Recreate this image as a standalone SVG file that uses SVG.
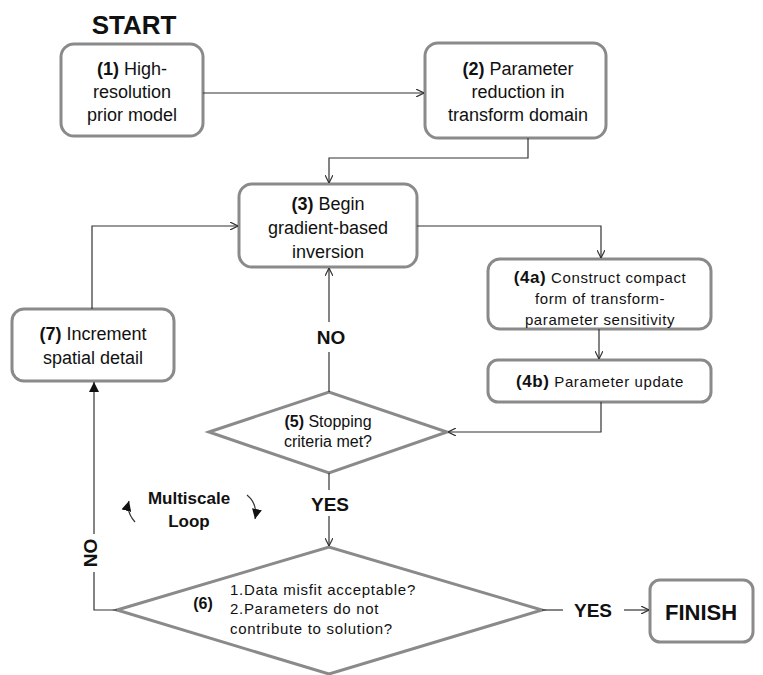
<svg xmlns="http://www.w3.org/2000/svg" width="763" height="675" viewBox="0 0 763 675">
<style>
.box{fill:#fff;stroke:#8a8a8a;stroke-width:3}
.t{font-family:"Liberation Sans",Arial,sans-serif;fill:#111;text-anchor:middle}
.l{text-anchor:start}
.m{font-size:18px}
.s{font-size:15px;letter-spacing:0.6px}
.d{font-size:16px}
.b{font-weight:bold}
.c{fill:none;stroke:#333;stroke-width:1.2}
</style>
<defs>
<marker id="ah" viewBox="0 0 10 10" refX="10" refY="5" markerWidth="8" markerHeight="8" markerUnits="userSpaceOnUse" orient="auto">
<path d="M0,0 L10,5 L0,10" fill="none" stroke="#333" stroke-width="1.5"/>
</marker>
<marker id="af" viewBox="0 0 10 10" refX="10" refY="5" markerWidth="10" markerHeight="10" markerUnits="userSpaceOnUse" orient="auto">
<path d="M0,0 L10,5 L0,10 z" fill="#111"/>
</marker>
</defs>
<text class="t b" x="134" y="34" font-size="26">START</text>
<g id="n1"><rect class="box" x="61" y="44" width="142" height="92" rx="13"/>
<text class="t m" x="132" y="75"><tspan class="b">(1)</tspan> High-</text>
<text class="t m" x="132" y="98">resolution</text>
<text class="t m" x="132" y="121">prior model</text></g>
<g id="n2"><rect class="box" x="425" y="43" width="181" height="95" rx="13"/>
<text class="t m" x="518" y="75"><tspan class="b">(2)</tspan> Parameter</text>
<text class="t m" x="518" y="98">reduction in</text>
<text class="t m" x="518" y="121">transform domain</text></g>
<g id="n3"><rect class="box" x="239" y="184" width="178" height="83" rx="13"/>
<text class="t m" x="328" y="210"><tspan class="b">(3)</tspan> Begin</text>
<text class="t m" x="328" y="234">gradient-based</text>
<text class="t m" x="328" y="258">inversion</text></g>
<g id="n4a"><rect class="box" x="488" y="259" width="223" height="70" rx="12"/>
<text class="t s" x="600" y="283"><tspan class="b" font-size="17">(4a)</tspan> Construct compact</text>
<text class="t s" x="600" y="304">form of transform-</text>
<text class="t s" x="600" y="325">parameter sensitivity</text></g>
<g id="n4b"><rect class="box" x="488" y="360" width="223" height="42" rx="10"/>
<text class="t s" x="600" y="387"><tspan class="b" font-size="17">(4b)</tspan> Parameter update</text></g>
<g id="n5"><polygon class="box" points="209,432 329,392 447,432 329,473"/>
<text class="t d" x="328" y="427"><tspan class="b">(5)</tspan> Stopping</text>
<text class="t d" x="328" y="447">criteria met?</text></g>
<g id="n6"><polygon class="box" points="117,610 329,547 542,610 329,674"/>
<text class="t d b" x="203" y="609">(6)</text>
<text class="t s l" x="230" y="595" style="letter-spacing:0.7px">1.Data misfit acceptable?</text>
<text class="t s l" x="230" y="614" style="letter-spacing:0.7px">2.Parameters do not</text>
<text class="t s l" x="230" y="634" style="letter-spacing:0.7px">contribute to solution?</text></g>
<g id="n7"><rect class="box" x="12" y="309" width="162" height="72" rx="12"/>
<text class="t m" x="93" y="340"><tspan class="b">(7)</tspan> Increment</text>
<text class="t m" x="93" y="364">spatial detail</text></g>
<g id="finish"><rect class="box" x="650" y="580" width="103" height="62" rx="10"/>
<text class="t b" x="701" y="620" font-size="22">FINISH</text></g>
<g id="connectors">
<line class="c" x1="203" y1="93" x2="424" y2="93" marker-end="url(#ah)"/>
<polyline class="c" points="528,138 528,158 329,158 329,183" marker-end="url(#ah)"/>
<polyline class="c" points="417,226 601,226 601,258" marker-end="url(#ah)"/>
<line class="c" x1="599" y1="329" x2="599" y2="359" marker-end="url(#ah)"/>
<polyline class="c" points="601,402 601,432 448,432" marker-end="url(#ah)"/>
<line class="c" x1="329" y1="392" x2="329" y2="352"/>
<line class="c" x1="329" y1="322" x2="329" y2="268" marker-end="url(#ah)"/>
<text class="t b" x="331" y="344" font-size="19">NO</text>
<line class="c" x1="329" y1="473" x2="329" y2="490"/>
<line class="c" x1="329" y1="516" x2="329" y2="546" marker-end="url(#ah)"/>
<text class="t b" x="330" y="511" font-size="19">YES</text>
<polyline class="c" points="117,610 94,610 94,572"/>
<line class="c" x1="94" y1="534" x2="94" y2="382" marker-end="url(#af)"/>
<text class="t b" font-size="19" transform="translate(97,553) rotate(-90)">NO</text>
<polyline class="c" points="92,309 92,226 238,226" marker-end="url(#ah)"/>
<line class="c" x1="542" y1="610" x2="563" y2="610"/>
<text class="t b" x="593" y="617" font-size="19">YES</text>
<line class="c" x1="624" y1="610" x2="649" y2="610" marker-end="url(#ah)"/>
<text class="t b" x="189" y="504" font-size="17">Multiscale</text>
<text class="t b" x="189" y="527" font-size="17">Loop</text>
<path class="c" d="M135,522 Q126,512 129,501" marker-end="url(#af)"/>
<path class="c" d="M247,495 Q258,504 255,519" marker-end="url(#af)"/>
</g>
</svg>
